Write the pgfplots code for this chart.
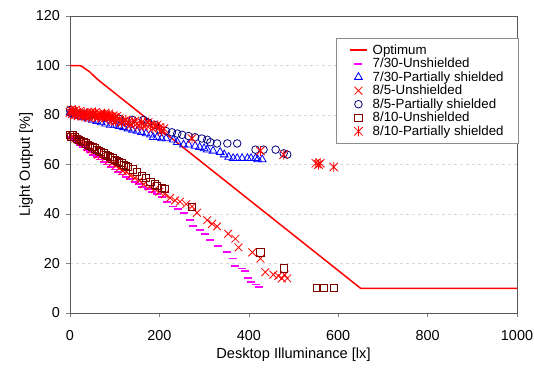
\documentclass[border=0pt]{standalone}
\usepackage{fontspec}
\setmainfont{Liberation Sans}
\usepackage{pgfplots}
\pgfplotsset{compat=1.18}
\definecolor{cMag}{RGB}{255,0,255}
\definecolor{cBlue}{RGB}{0,0,255}
\definecolor{cRed}{RGB}{255,0,0}
\definecolor{cNavy}{RGB}{0,0,128}
\definecolor{cDark}{RGB}{128,0,0}
\pgfdeclareplotmark{xast}{%
  \pgfpathmoveto{\pgfqpoint{-\pgfplotmarksize}{-\pgfplotmarksize}}%
  \pgfpathlineto{\pgfqpoint{\pgfplotmarksize}{\pgfplotmarksize}}%
  \pgfpathmoveto{\pgfqpoint{-\pgfplotmarksize}{\pgfplotmarksize}}%
  \pgfpathlineto{\pgfqpoint{\pgfplotmarksize}{-\pgfplotmarksize}}%
  \pgfpathmoveto{\pgfqpoint{0pt}{-1.2\pgfplotmarksize}}%
  \pgfpathlineto{\pgfqpoint{0pt}{1.2\pgfplotmarksize}}%
  \pgfusepathqstroke}
\pgfdeclareplotmark{hdash}{%
  \pgfpathmoveto{\pgfqpoint{-\pgfplotmarksize}{0pt}}%
  \pgfpathlineto{\pgfqpoint{\pgfplotmarksize}{0pt}}%
  \pgfusepathqstroke}
\begin{document}
\begin{tikzpicture}
\begin{axis}[
  scale only axis, width=447pt, height=297pt,
  xmin=0, xmax=1000, ymin=0, ymax=120,
  xtick={0,200,...,1000}, ytick={0,20,...,120},
  xtick pos=left, ytick pos=left, tick align=outside,
  major tick length=3.5pt,
  axis line style={black!65, line width=0.9pt},
  tick style={black!50, line width=0.6pt},
  ymajorgrids, major grid style={black!15, dashed, line width=0.6pt},
  /pgf/number format/assume math mode=true,
  /pgf/number format/1000 sep={},
  tick label style={font=\fontsize{14.4}{17}\selectfont},
  xticklabel style={anchor=center, yshift=-19.5pt},
  yticklabel style={xshift=-3pt},
  label style={font=\fontsize{14.6}{17}\selectfont},
  xlabel style={at={(axis description cs:0.5,-0.139)}, anchor=center},
  ylabel style={at={(axis description cs:-0.098,0.5)}, anchor=center},
  xlabel={Desktop Illuminance [lx]},
  ylabel={Light Output [\%]},
  legend style={at={(1.004,0.925)}, anchor=north east, draw=black!45,
    font=\fontsize{13.3}{15}\selectfont, row sep=-1.6pt,
    inner xsep=13pt, inner ysep=4pt,
    /tikz/every odd column/.append style={column sep=3pt}},
  legend cell align=left,
]
\addplot[cRed, line width=1.5pt, no marks]
  coordinates {(0,100) (20,100) (25,99.8) (30,99.2) (37,98.3) (45,97.3) (55,95.5) (67,93.6) (650,10) (1000,10)};
\addlegendentry{Optimum}
\addplot[forget plot, only marks, cMag, mark=hdash, mark size=4pt, mark options={line width=1.8pt}]
  coordinates {(2,71) (8,70) (15,69) (22,68) (30,67) (38,66) (45,65) (52,64) (60,63) (68,62) (75,61)
   (83,60) (92,59) (100,58) (108,57) (116,56) (125,55) (135,54) (145,53) (155,52) (161,51) (175,50)
   (184,49) (195,48) (205,47) (217,45) (230,43) (242,42) (254,40.5) (269,37.5) (276,35) (290,33.5)
   (303,32) (314,29.5) (332,27) (352,24.5) (365,22) (370,19) (385,18) (392,17) (399,14) (404,12.5)
   (415,11.5) (422,10.5)};
\addlegendimage{legend image code/.code={\fill[fill=cMag, draw=none] (0.16cm,-0.035cm) rectangle (0.44cm,0.035cm);}}
\addlegendentry{7/30-Unshielded}
\addplot[only marks, cBlue, mark=triangle, mark size=4.5pt, mark options={line width=0.8pt}]
  coordinates {(0,81) (5,80.5) (10,80) (20,79.5) (30,79) (40,78.5) (50,78) (60,77.5) (70,77) (80,76.5)
   (90,76) (100,76) (110,75.5) (120,75) (130,74.5) (140,74) (150,73.5) (160,73) (170,72.5) (180,72)
   (186,71) (195,71) (205,70.5) (215,70.5) (231,70) (240,69) (254,68) (265,68) (280,67.5) (290,67)
   (300,66.5) (307,66) (320,65.5) (336,65) (345,64) (355,63) (365,62.5) (374,62.5) (385,62.5)
   (397,62.5) (405,62.5) (415,62.5) (420,62) (430,62)};
\addlegendentry{7/30-Partially shielded}
\addplot[only marks, cRed, mark=x, mark size=5.5pt, mark options={line width=0.8pt}]
  coordinates {(5,71.5) (12,70.5) (18,70) (26,69) (33,68.5) (40,67) (48,66) (55,65.5) (63,64) (70,63.5)
   (78,62.5) (86,61.5) (94,60.5) (102,59.5) (110,58.5) (118,57.5) (126,57) (135,55.5) (145,54.5)
   (155,53.5) (165,52) (178,51) (190,50) (200,49) (212,48) (224,46.5) (235,45.5) (246,45) (260,44)
   (273,43) (284,40.5) (307,37.5) (318,36) (329,35) (354,32) (370,30) (377,26.5) (408,24.5) (426,22)
   (437,16.5) (455,15.5) (466,15) (474,14) (486,14) (480,15.5)};
\addlegendentry{8/5-Unshielded}
\addplot[only marks, cNavy, mark=o, mark size=3.8pt, mark options={line width=0.8pt}]
  coordinates {(0,82) (3,81) (10,81) (30,80.5) (50,80) (80,79) (110,78.5) (140,78) (164,78) (175,77)
   (190,76) (202,74) (215,73.5) (228,73) (240,72.5) (251,72) (265,71.5) (280,71) (295,70.5) (307,70)
   (314,69) (329,68.5) (352,68.5) (374,68.5) (415,66) (433,66) (460,66) (478,64.5) (486,64)};
\addlegendentry{8/5-Partially shielded}
\addplot[only marks, cDark, mark=square, mark size=3.6pt, mark options={line width=0.8pt}]
  coordinates {(0,72) (3,71) (6,72) (10,71) (15,70.5) (20,70) (25,69.5) (30,69) (35,68.5) (40,68)
   (45,67.5) (50,67) (55,66.5) (60,66) (65,65.5) (70,65) (75,64.5) (80,64) (85,63.5) (90,63)
   (95,62.5) (100,62) (105,61.5) (110,61) (115,60.5) (120,60) (125,59.5) (130,59) (140,58)
   (150,57) (160,55.5) (170,54.5) (180,53) (190,52) (195,51.5) (205,50.5) (213,50) (273,43)
   (426,24.5) (478,18) (553,10) (567,10) (590,10)};
\addlegendentry{8/10-Unshielded}
\addplot[only marks, cRed, mark=xast, mark size=4.2pt, mark options={line width=0.8pt}]
  coordinates {(0,81) (5,80.5) (10,80) (15,81) (20,80) (25,80.5) (30,80) (35,79.5) (40,80) (45,80.5)
   (50,80) (55,79.5) (60,80) (65,79.5) (70,80) (75,79.5) (80,80) (85,79.5) (90,79) (95,79.5) (100,79)
   (110,78.5) (120,77.5) (130,77) (140,77) (150,76.5) (160,77) (170,76) (180,76) (190,75.5) (200,75)
   (210,74.5) (273,70.5) (426,65.5) (478,64) (550,60.5) (556,60) (560,60.5) (590,59)
   (2,82) (7,81.5) (12,82) (17,80) (22,81.5) (27,79.5) (32,81) (37,80.5) (42,79) (47,81) (52,80.5)
   (57,81) (62,79) (67,80.5) (72,79) (77,80.5) (82,79) (87,80.5) (92,78) (97,78) (102,77.5)
   (105,79.5) (115,77) (125,78) (135,76) (145,77.5) (155,75.5) (165,75.5) (175,77) (185,74.5)
   (195,76) (205,73.5)};
\addlegendentry{8/10-Partially shielded}
\end{axis}
\path (current axis.south west) ++(-70pt,-57pt) coordinate (bbl);
\path (current axis.north east) ++(17pt,16pt) coordinate (bbr);
\pgfresetboundingbox
\useasboundingbox (bbl) rectangle (bbr);
\end{tikzpicture}
\end{document}
